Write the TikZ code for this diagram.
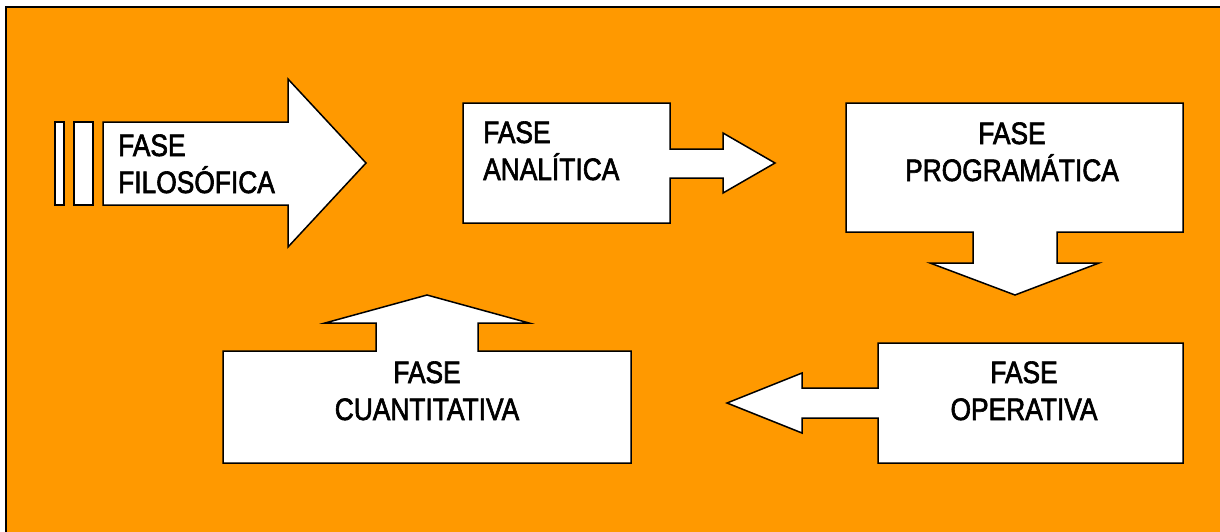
\documentclass[tikz,border=0pt]{standalone}
\usepackage{fontspec}
\setmainfont{Liberation Sans}[FakeStretch=0.85, FakeBold=2]
\definecolor{fondo}{HTML}{FF9900}
\tikzstyle{forma} = [draw=black, fill=white, line width=1.5pt, line join=miter]
\tikzstyle{texto} = [font=\fontsize{31}{37}\selectfont, inner sep=0pt, text=black]

\begin{document}
\begin{tikzpicture}[x=1pt, y=-1pt]

    \useasboundingbox (0,0) rectangle (1220,531);
    \clip (0,0) rectangle (1220,531);
    \draw [fill=fondo, line width=2pt] (6,7) rectangle (1232,542);

    % fase filosofica
    \draw [forma] (55,122) rectangle (64,205);
    \draw [forma] (74,122) rectangle (93,205);
    \draw [forma] (103,122) -- (288,122) -- (288,79) -- (366,163) -- (288,247) -- (288,205) -- (103,205) -- cycle;
    \node (filo) [texto, align=left, anchor=base west] at (118,193) {FASE\\FILOSÓFICA};

    % fase analitica
    \draw [forma] (463,103) -- (670,103) -- (670,149) -- (723,149) -- (723,133) -- (775,163) -- (723,193) -- (723,178) -- (670,178) -- (670,223) -- (463,223) -- cycle;
    \node (ana) [texto, align=left, anchor=base west] at (483,180) {FASE\\ANALÍTICA};

    % fase programatica
    \draw [forma] (846,103) -- (1183,103) -- (1183,232) -- (1057,232) -- (1057,263) -- (1099,263) -- (1015,295) -- (930,263) -- (973,263) -- (973,232) -- (846,232) -- cycle;
    \node (prog) [texto, align=center, anchor=base] at (1012,181) {FASE\\PROGRAMÁTICA};

    % fase operativa
    \draw [forma] (878,343) -- (1183,343) -- (1183,463) -- (878,463) -- (878,418) -- (802,418) -- (802,433) -- (727,403) -- (802,373) -- (802,388) -- (878,388) -- cycle;
    \node (oper) [texto, align=center, anchor=base] at (1024,420) {FASE\\OPERATIVA};

    % fase cuantitativa
    \draw [forma] (223,351) -- (376,351) -- (376,323) -- (325,323) -- (427,295) -- (529,323) -- (478,323) -- (478,351) -- (631,351) -- (631,463) -- (223,463) -- cycle;
    \node (cuant) [texto, align=center, anchor=base] at (427,420) {FASE\\CUANTITATIVA};

\end{tikzpicture}
\end{document}
